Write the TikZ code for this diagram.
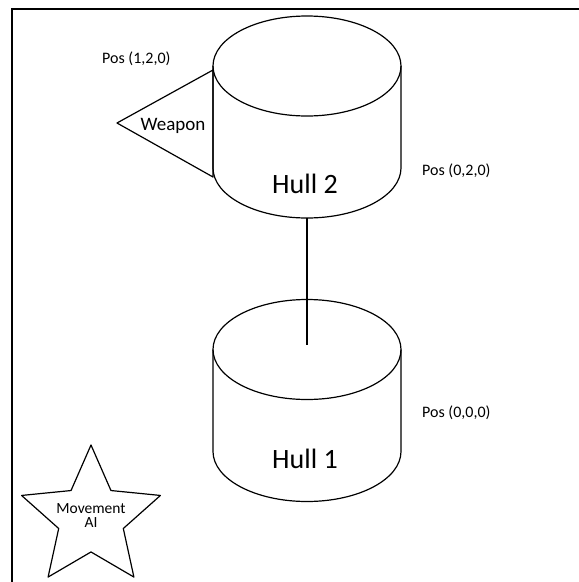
\documentclass[tikz,border=0pt]{standalone}
\usepackage{fontspec}
\setmainfont{Carlito}
\usetikzlibrary{shapes.geometric}

\tikzset{
  outline/.style={line width=1.2pt, line join=round},
  frameline/.style={line width=2.4pt},
  hulltext/.style={font=\fontsize{28}{30}\selectfont, inner sep=0pt, anchor=base},
  postext/.style={font=\fontsize{16}{18}\selectfont, inner sep=0pt, anchor=base west},
  smalltext/.style={font=\fontsize{19}{21}\selectfont, inner sep=0pt, anchor=base},
  aitext/.style={font=\fontsize{15.5}{14}\selectfont, align=center, inner sep=0pt},
  % a standing can: origin at the centre of its top face
  can/.pic={
    \draw[outline] (0,0) ellipse [x radius=94pt, y radius=50pt];
    \draw[outline] (-94,0) -- (-94,102)
      arc[start angle=180, end angle=360, x radius=94pt, y radius=50pt]
      -- (94,0);
  }
}

\begin{document}
\begin{tikzpicture}[x=1pt, y=-1pt]
  \useasboundingbox (0,0) rectangle (579,582);

  % frame along the top and left edges
  \coordinate (frameTR) at (579,9);
  \coordinate (frameTL) at (12,9);
  \coordinate (frameBL) at (12,582);
  \draw[frameline] (frameTR) -- (frameTL) -- (frameBL);

  % the two hull segments
  \pic at (307,66) {can};
  \pic at (307,349.5) {can};

  % weapon mount on the upper hull
  \coordinate (wtip) at (117,123);
  \coordinate (wtop) at (213,70);
  \coordinate (wbot) at (213,177);
  \draw[outline] (wtop) -- (wtip) -- (wbot) -- cycle;
  \node[smalltext] (weapon) at (173,130) {Weapon};

  % joint between the hulls
  \coordinate (hullTwoBase) at (307,218);
  \coordinate (hullOneCore) at (307,345);
  \draw[outline] (hullTwoBase) -- (hullOneCore);

  % hull names
  \node[hulltext] (hull2) at (305,193) {Hull 2};
  \node[hulltext] (hull1) at (305,468) {Hull 1};

  % positions
  \node[postext] (pos120) at (102,63) {Pos (1,2,0)};
  \node[postext] (pos020) at (422,175) {Pos (0,2,0)};
  \node[postext] (pos000) at (422,417) {Pos (0,0,0)};

  % movement controller
  \node[draw, outline, star, star points=5, star point ratio=2.15,
        minimum size=146pt, inner sep=0pt] (ai) at (91,518) {};
  \node[aitext] (aitxt) at (91,516) {Movement\\AI};
\end{tikzpicture}
\end{document}
